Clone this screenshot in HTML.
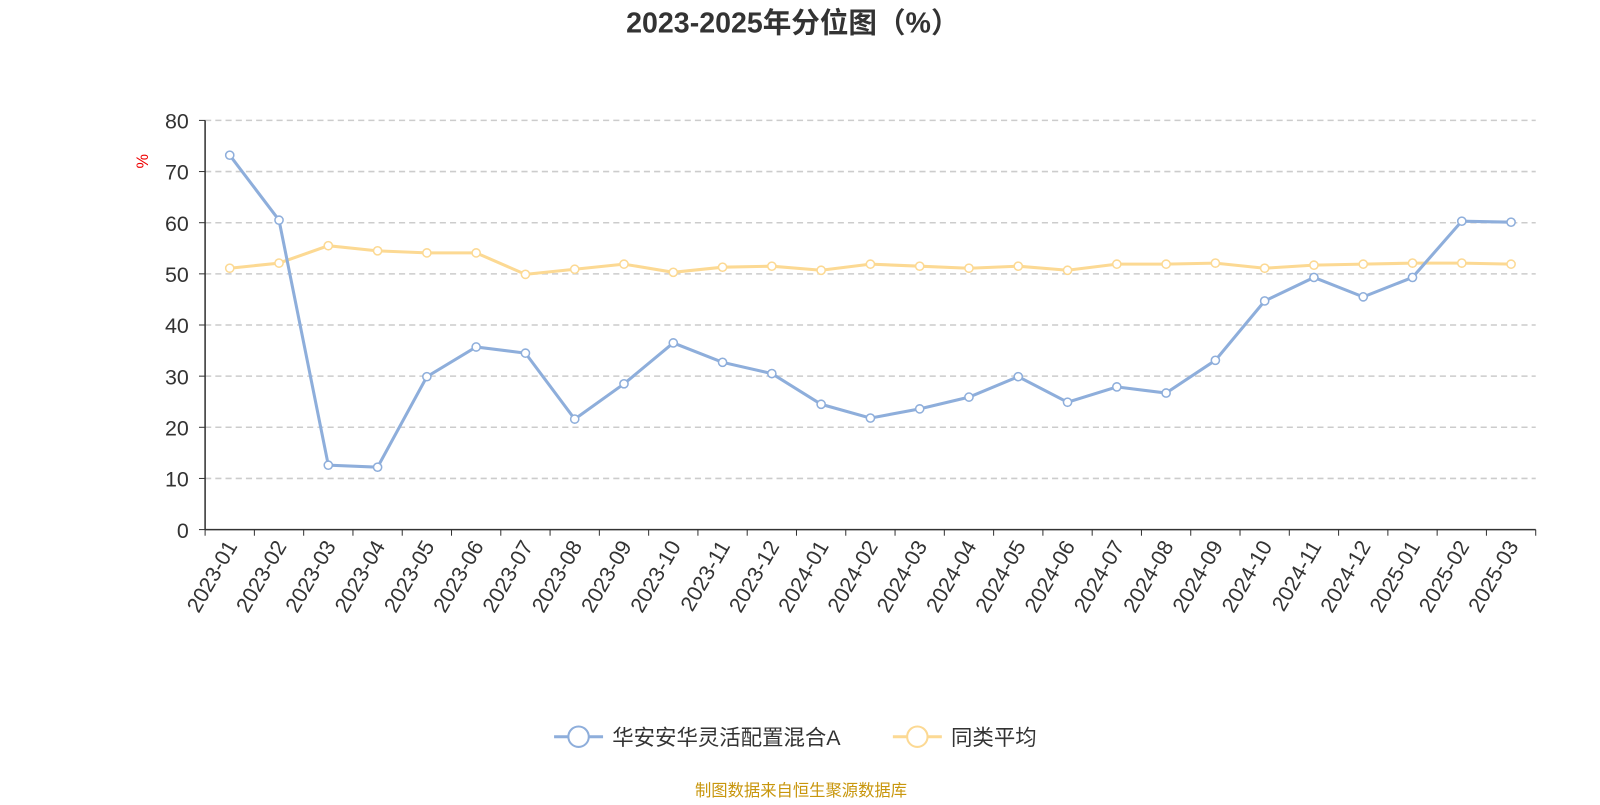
<!DOCTYPE html>
<html><head><meta charset="utf-8"><style>
body{margin:0;background:#fff;width:1600px;height:800px;overflow:hidden;font-family:"Liberation Sans","Noto Sans CJK SC",sans-serif}
</style></head><body>
<svg id="chart" width="1600" height="800" viewBox="0 0 1568 784" xmlns="http://www.w3.org/2000/svg" font-family="Liberation Sans, Noto Sans CJK SC, sans-serif">
<text x="777" y="32" text-anchor="middle" font-size="28" font-weight="bold" fill="#333">2023-2025年分位图（%）</text>
<text x="145" y="158" font-size="16" fill="#e00" transform="rotate(-90 145 158)" text-anchor="middle">%</text>
<g id="grid"></g><g id="axes"></g><g id="series"></g>
<g>
<g>
<line x1="543" y1="722" x2="591" y2="722" stroke="#8eaedb" stroke-width="3"/>
<circle cx="567" cy="722" r="10" fill="#fff" stroke="#8eaedb" stroke-width="2"/>
<text x="600" y="730" font-size="21" fill="#333">华安安华灵活配置混合A</text></g>
<g>
<line x1="875" y1="722" x2="923" y2="722" stroke="#fcd993" stroke-width="3"/>
<circle cx="899" cy="722" r="10" fill="#fff" stroke="#fcd993" stroke-width="2"/>
<text x="932" y="730" font-size="21" fill="#333">同类平均</text></g>
</g>
<text x="785" y="780" text-anchor="middle" font-size="16" fill="#c8960c">制图数据来自恒生聚源数据库</text>
</svg>
<script>
const categories=["2023-01","2023-02","2023-03","2023-04","2023-05","2023-06","2023-07","2023-08","2023-09","2023-10","2023-11","2023-12","2024-01","2024-02","2024-03","2024-04","2024-05","2024-06","2024-07","2024-08","2024-09","2024-10","2024-11","2024-12","2025-01","2025-02","2025-03"];
const fundValues=[73.2,60.5,12.6,12.2,29.9,35.7,34.5,21.6,28.5,36.5,32.7,30.5,24.5,21.8,23.6,25.9,29.9,24.9,27.9,26.7,33.1,44.7,49.3,45.5,49.3,60.3,60.1];
const avgValues=[51.1,52.1,55.5,54.5,54.1,54.1,49.9,50.9,51.9,50.3,51.3,51.5,50.7,51.9,51.5,51.1,51.5,50.7,51.9,51.9,52.1,51.1,51.7,51.9,52.1,52.1,51.9];
const yTicks=[0,10,20,30,40,50,60,70,80];
const NS="http://www.w3.org/2000/svg";
const L=201,R=1505,T=118,B=519,ymax=80;
const bw=(R-L)/categories.length;
const x=i=>L+bw*(i+0.5), y=v=>B-(v/ymax)*(B-T);
function mk(tag,attrs,parent){const e=document.createElementNS(NS,tag);for(const k in attrs)e.setAttribute(k,attrs[k]);parent.appendChild(e);return e;}
const grid=document.getElementById('grid'),axes=document.getElementById('axes'),series=document.getElementById('series');
yTicks.forEach(v=>{
 if(v>0){const g=mk('line',{x1:L,x2:R,y1:y(v),y2:y(v),stroke:'#ccc','stroke-dasharray':'6,4','stroke-width':1.5},grid);
 
 }
 const t=mk('text',{x:L-16,y:y(v)+8,'text-anchor':'end','font-size':21,fill:'#333'},axes);t.textContent=v;
 
 
 const tk=mk('line',{x1:L-6,x2:L,y1:y(v),y2:y(v),stroke:'#333'},axes);
 
 
});
const ya=mk('line',{x1:L,x2:L,y1:T,y2:B,stroke:'#333','stroke-width':1.5},axes);


const xa=mk('line',{x1:L,x2:R,y1:B,y2:B,stroke:'#333','stroke-width':1.5},axes);


for(let i=0;i<=categories.length;i++){const tk=mk('line',{x1:L+bw*i,x2:L+bw*i,y1:B,y2:B+6,stroke:'#333'},axes);
 
 }
categories.forEach((c,i)=>{const t=mk('text',{x:x(i)+8,y:B+16,'text-anchor':'end','font-size':21,fill:'#333',transform:`rotate(-60 ${x(i)+8} ${B+16})`},axes);t.textContent=c;
 
 });
function drawSeries(vals,color,name){
 const p=mk('polyline',{points:vals.map((v,i)=>x(i)+','+y(v)).join(' '),fill:'none',stroke:color,'stroke-width':3},series);
 
 
 vals.forEach((v,i)=>{const c=mk('circle',{cx:x(i),cy:y(v),r:4,fill:'#fff',stroke:color,'stroke-width':1.5},series);
 
 });
}
drawSeries(avgValues,'#fcd993','average');
drawSeries(fundValues,'#8eaedb','fund');
</script>
</body></html>
